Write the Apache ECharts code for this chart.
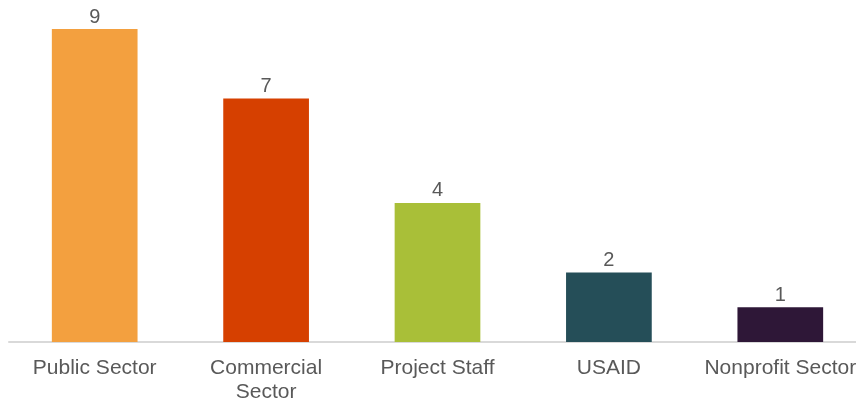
<!DOCTYPE html>
<html><head><meta charset="utf-8">
<script src="https://cdn.jsdelivr.net/npm/echarts@6/dist/echarts.min.js"></script>
<style>html,body{margin:0;padding:0;background:#fff}#c{width:856px;height:401px}</style>
</head><body><div id="c"></div>
<script>
const categories = ['Public Sector', 'Commercial\nSector', 'Project Staff', 'USAID', 'Nonprofit Sector'];
const values = [9, 7, 4, 2, 1];
const colors = ['#F3A03F', '#D64000', '#A9BF38', '#254E58', '#2E1737'];

const chart = echarts.init(document.getElementById('c'), null, {renderer: 'canvas'});
chart.setOption({
  animation: false,
  backgroundColor: '#ffffff',
  grid: {left: 9, width: 857, top: 29, bottom: 59, containLabel: false, outerBoundsMode: 'none'},
  xAxis: {
    type: 'category',
    data: categories,
    axisLine: {lineStyle: {color: '#D9D9D9', width: 2}},
    axisTick: {show: false},
    axisLabel: {color: '#595959', fontSize: 21, fontFamily: 'Liberation Sans, Arial, sans-serif', margin: 14, lineHeight: 24, interval: 0, hideOverlap: false}
  },
  yAxis: {type: 'value', min: 0, max: 9, show: false, splitLine: {show: false}},
  series: [{
    type: 'bar',
    barWidth: '50%',
    data: values.map((v, i) => ({value: v, itemStyle: {color: colors[i]}})),
    label: {show: true, position: 'top', distance: 2, color: '#595959', fontSize: 20, fontFamily: 'Liberation Sans, Arial, sans-serif'}
  }]
});
</script></body></html>
